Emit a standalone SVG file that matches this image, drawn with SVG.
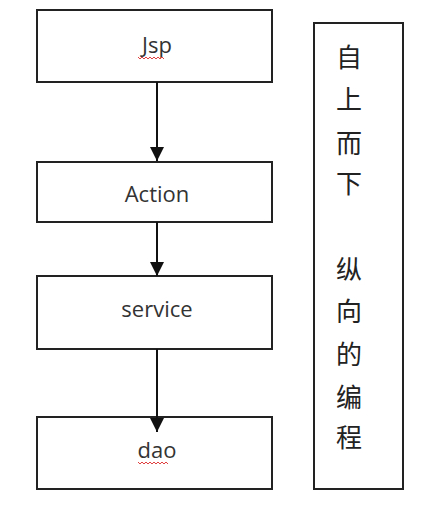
<svg xmlns="http://www.w3.org/2000/svg" width="438" height="512" viewBox="0 0 438 512">
<style>
.box{fill:#fff;stroke:#222;stroke-width:2}
.lbl{font-family:"Open Sans","Noto Sans",sans-serif;font-size:22px;fill:#333;text-anchor:middle}
.cjk{font-family:"Noto Sans CJK SC",sans-serif;font-size:26px;fill:#222;text-anchor:middle}
.conn{stroke:#111;stroke-width:2;fill:none}
.sq{stroke:#e04040;stroke-width:1;fill:none}
</style>
<defs>
<marker id="ah" viewBox="0 0 10 10" refX="10" refY="5" markerWidth="7" markerHeight="7" markerUnits="strokeWidth" orient="auto">
<path d="M0,0 L10,5 L0,10 Z" fill="#111"/>
</marker>
</defs>
<rect width="438" height="512" fill="#fff"/>
<g id="jsp">
<rect class="box" x="37" y="10" width="235" height="72"/>
<text class="lbl" x="157" y="53">Jsp</text>
<path class="sq" d="M138,57 l2,2 l2,-2 l2,2 l2,-2 l2,2 l2,-2 l2,2 l2,-2 l2,2 l2,-2 l2,2 l2,-2 l2,2"/>
</g>
<g id="action">
<rect class="box" x="37" y="162" width="235" height="60"/>
<text class="lbl" x="157" y="202">Action</text>
</g>
<g id="service">
<rect class="box" x="37" y="276" width="235" height="73"/>
<text class="lbl" x="157" y="317">service</text>
</g>
<g id="dao">
<rect class="box" x="37" y="417" width="235" height="72"/>
<text class="lbl" x="157" y="458">dao</text>
<path class="sq" d="M138,462 l2,2 l2,-2 l2,2 l2,-2 l2,2 l2,-2 l2,2 l2,-2 l2,2 l2,-2 l2,2 l2,-2 l2,2 l2,-2 l2,2"/>
</g>
<g id="note">
<rect class="box" x="314" y="23" width="89" height="466"/>
<text class="cjk" x="349" y="67">自</text>
<text class="cjk" x="349" y="109">上</text>
<text class="cjk" x="349" y="153">而</text>
<text class="cjk" x="349" y="193">下</text>
<text class="cjk" x="349" y="279">纵</text>
<text class="cjk" x="349" y="321">向</text>
<text class="cjk" x="349" y="364">的</text>
<text class="cjk" x="349" y="407">编</text>
<text class="cjk" x="349" y="447">程</text>
</g>
<g id="connectors">
<line class="conn" x1="157" y1="82" x2="157" y2="161" marker-end="url(#ah)"/>
<line class="conn" x1="157" y1="222" x2="157" y2="276" marker-end="url(#ah)"/>
<line class="conn" x1="157" y1="349" x2="157" y2="432" marker-end="url(#ah)"/>
</g>
</svg>
